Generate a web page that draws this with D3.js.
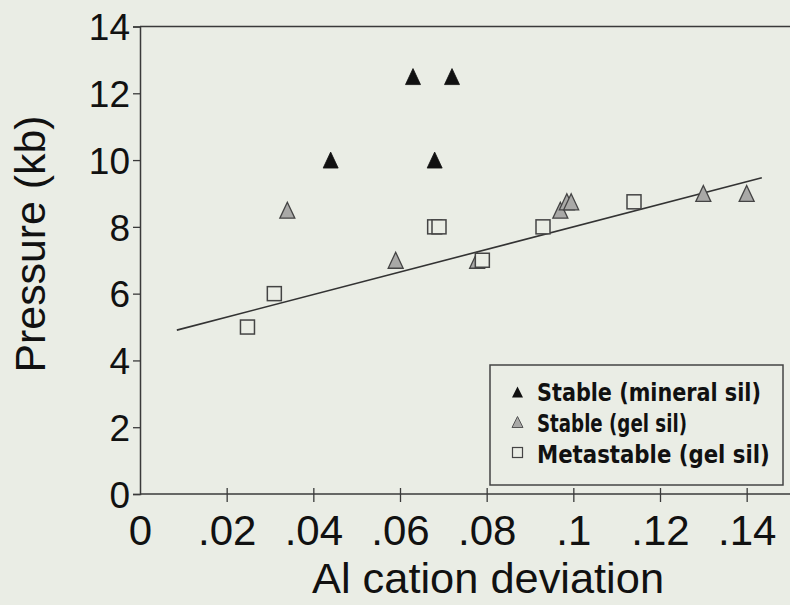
<!DOCTYPE html>
<html>
<head>
<meta charset="utf-8">
<script src="https://cdn.jsdelivr.net/npm/d3@7"></script>
<style>
  html, body { margin: 0; padding: 0; background: #EAEDE5; }
  svg { display: block; }
</style>
</head>
<body>
<svg id="chart" width="790" height="605"></svg>
<script>
// ---- data ----
const xTickValues = [0, 0.02, 0.04, 0.06, 0.08, 0.10, 0.12, 0.14];
const xTickLabels = ["0", ".02", ".04", ".06", ".08", ".1", ".12", ".14"];
const yTickValues = [0, 2, 4, 6, 8, 10, 12, 14];

const stableMineralX = [0.044, 0.063, 0.072, 0.068];
const stableMineralY = [10, 12.5, 12.5, 10];

const stableGelX = [0.034, 0.059, 0.0778, 0.097, 0.0985, 0.0995, 0.130, 0.140];
const stableGelY = [8.5, 7.0, 7.0, 8.5, 8.75, 8.75, 9.0, 9.0];

const metastableGelX = [0.0248, 0.031, 0.068, 0.069, 0.079, 0.093, 0.114];
const metastableGelY = [5.0, 6.0, 8.0, 8.0, 7.0, 8.0, 8.75];

const fitRangeX = [0.0085, 0.1435];
const fitIntercept = 4.62;
const fitSlope = 33.8;

const legendLabels = ["Stable (mineral sil)", "Stable (gel sil)", "Metastable (gel sil)"];

// ---- layout ----
const svg = d3.select("#chart");
const bg = "#EAEDE5";
const ink = "#3a3a3a";

const x = d3.scaleLinear().domain([0, 0.15]).range([140, 790]);
const y = d3.scaleLinear().domain([0, 14]).range([494, 26.5]);

svg.append("rect").attr("width", 790).attr("height", 605).attr("fill", bg);

// top frame line
svg.append("line")
  .attr("x1", x(0)).attr("x2", 790)
  .attr("y1", y(14)).attr("y2", y(14))
  .attr("stroke", ink).attr("stroke-width", 1.5);

// x axis
const xAxis = d3.axisBottom(x)
  .tickValues(xTickValues)
  .tickFormat((d, i) => xTickLabels[i])
  .tickSizeOuter(0)
  .tickSize(0)
  .tickPadding(0);
const gx = svg.append("g").attr("transform", `translate(0,${y(0)})`).call(xAxis);
gx.select(".domain").attr("stroke", ink).attr("stroke-width", 1.5).attr("d", `M${x(0)},0H790`);
gx.selectAll(".tick line").attr("y1", -6).attr("y2", 8).attr("stroke", ink).attr("stroke-width", 1.3)
  .filter(d => d === 0).remove();
gx.selectAll(".tick text")
  .attr("font-family", "'Liberation Sans', Arial, sans-serif")
  .attr("font-size", 42)
  .attr("fill", "#111")
  .attr("dy", null)
  .attr("y", 51);

// y axis
const yAxis = d3.axisLeft(y)
  .tickValues(yTickValues)
  .tickSizeOuter(0)
  .tickSize(7)
  .tickPadding(3);
const gy = svg.append("g").attr("transform", `translate(${x(0)},0)`).call(yAxis);
gy.select(".domain").attr("stroke", ink).attr("stroke-width", 1.5);
gy.selectAll(".tick line").attr("stroke", ink).attr("stroke-width", 1.3);
gy.selectAll(".tick text")
  .attr("font-family", "'Liberation Sans', Arial, sans-serif")
  .attr("font-size", 37)
  .attr("fill", "#111")
  .attr("dy", "0.36em");

// axis titles
svg.append("text")
  .attr("x", 488).attr("y", 593)
  .attr("text-anchor", "middle")
  .attr("font-family", "'Liberation Sans', Arial, sans-serif")
  .attr("font-size", 43)
  .attr("fill", "#111")
  .attr("textLength", 352).attr("lengthAdjust", "spacingAndGlyphs")
  .text("Al cation deviation");

svg.append("text")
  .attr("transform", "translate(45,244) rotate(-90)")
  .attr("text-anchor", "middle")
  .attr("font-family", "'Liberation Sans', Arial, sans-serif")
  .attr("font-size", 43)
  .attr("fill", "#111")
  .attr("textLength", 257).attr("lengthAdjust", "spacingAndGlyphs")
  .text("Pressure (kb)");

// regression line
const fitLine = d3.line().x(d => x(d)).y(d => y(fitIntercept + fitSlope * d));
svg.append("path")
  .attr("d", fitLine(fitRangeX))
  .attr("fill", "none")
  .attr("stroke", "#333")
  .attr("stroke-width", 1.6);

// symbol helpers
function triPath(cx, cy, w, h) {
  return `M${cx},${cy - h / 2}L${cx + w / 2},${cy + h / 2}L${cx - w / 2},${cy + h / 2}Z`;
}

// stable gel (gray triangles)
svg.append("g").selectAll("path")
  .data(d3.range(stableGelX.length))
  .join("path")
  .attr("d", i => triPath(x(stableGelX[i]), y(stableGelY[i]), 15, 16))
  .attr("fill", "#A9A9A7")
  .attr("stroke", "#444")
  .attr("stroke-width", 1.3)
  .attr("stroke-linejoin", "miter");

// metastable gel (open squares)
svg.append("g").selectAll("rect")
  .data(d3.range(metastableGelX.length))
  .join("rect")
  .attr("x", i => x(metastableGelX[i]) - 7)
  .attr("y", i => y(metastableGelY[i]) - 7)
  .attr("width", 14).attr("height", 14)
  .attr("fill", bg)
  .attr("stroke", "#444")
  .attr("stroke-width", 1.5);

// stable mineral (black triangles)
svg.append("g").selectAll("path")
  .data(d3.range(stableMineralX.length))
  .join("path")
  .attr("d", i => triPath(x(stableMineralX[i]), y(stableMineralY[i]), 15, 16))
  .attr("fill", "#111")
  .attr("stroke", "#111")
  .attr("stroke-width", 0.8);

// legend
const lg = svg.append("g");
lg.append("rect")
  .attr("x", 490).attr("y", 365).attr("width", 293).attr("height", 120)
  .attr("fill", bg).attr("stroke", "#444").attr("stroke-width", 1.5);

const legendBaselines = [401, 432, 463];
const legendWidths = [224, 150, 233];
legendLabels.forEach((lab, i) => {
  const g = lg.append("g");
  const t = g.append("text")
    .attr("x", 0).attr("y", 0)
    .attr("font-family", "'DejaVu Sans', sans-serif")
    .attr("font-weight", "bold")
    .attr("font-size", 24)
    .attr("fill", "#111")
    .text(lab);
  const natural = t.node().getComputedTextLength();
  const sx = legendWidths[i] / natural;
  g.attr("transform", `translate(537,${legendBaselines[i]}) scale(${sx},1)`);
});
lg.append("path").attr("d", triPath(517.5, 392, 11, 11)).attr("fill", "#111");
lg.append("path").attr("d", triPath(517.5, 422, 11, 11)).attr("fill", "#A9A9A7").attr("stroke", "#555").attr("stroke-width", 1);
lg.append("rect").attr("x", 512.5).attr("y", 447.5).attr("width", 10).attr("height", 10)
  .attr("fill", bg).attr("stroke", "#444").attr("stroke-width", 1.2);
</script>
</body>
</html>
